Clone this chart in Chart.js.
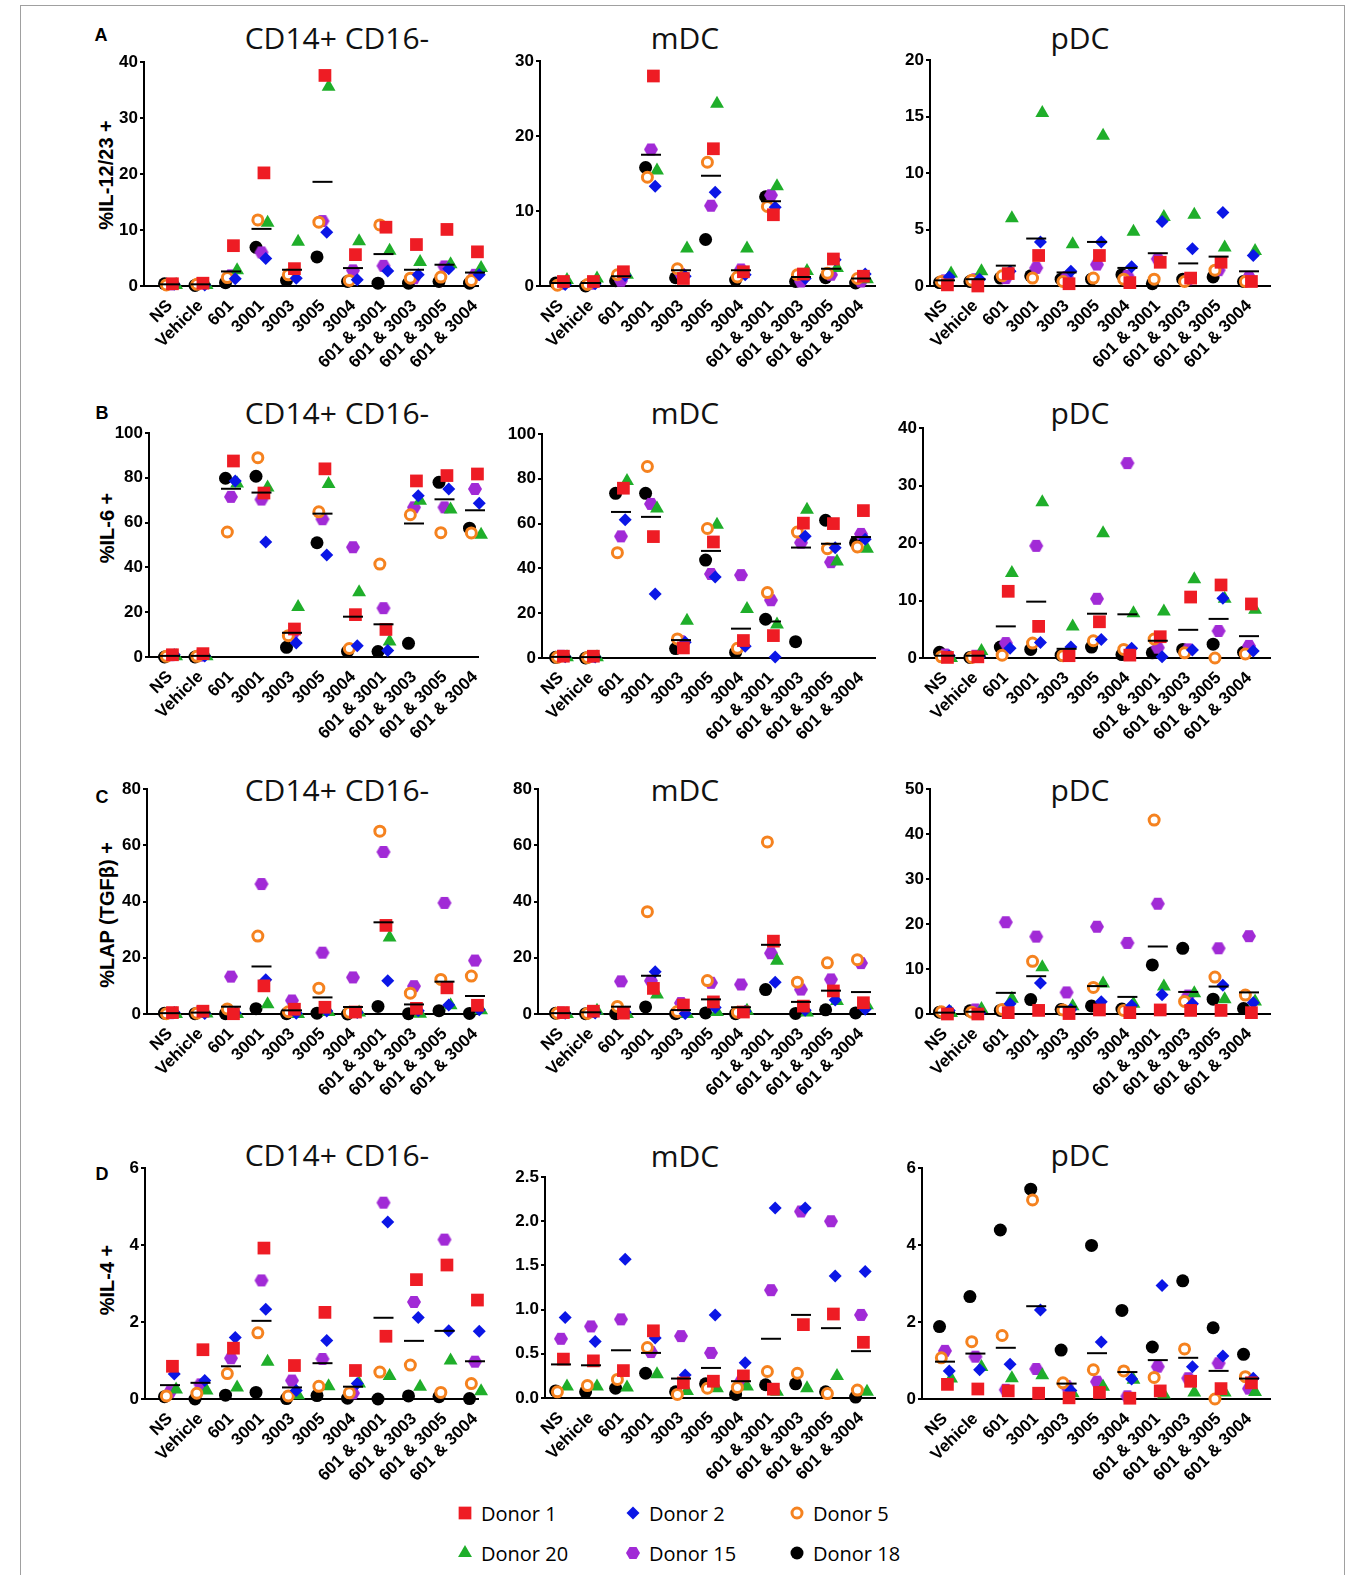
<!DOCTYPE html>
<html>
<head>
<meta charset="utf-8">
<script src="https://cdn.jsdelivr.net/npm/chart.js@4.4.1/dist/chart.umd.min.js"></script>
<style>
  body { margin: 0; background: #fff; width: 1363px; height: 1575px; position: relative; overflow: hidden; font-family: "Liberation Sans", Arial, sans-serif; color: #000; }
  .frame { position: absolute; left: 20px; top: 5px; width: 1323px; height: 1620px; border: 1px solid #a0a0a0; }
  canvas.panel { position: absolute; }
  .title { position: absolute; font-family: "Open Sans", sans-serif; font-size: 30px; transform: translate(-50%, -50%); white-space: nowrap; color: #111; }
  .letter { position: absolute; font-weight: bold; font-size: 18px; transform: translate(-50%, -50%); }
  .ytitle { position: absolute; font-weight: bold; font-size: 20px; white-space: nowrap; transform: translate(-50%, -50%) rotate(-90deg); }
  .leg { position: absolute; font-family: "Open Sans", sans-serif; font-size: 20px; transform: translateY(-50%); white-space: nowrap; }
  canvas.sym { position: absolute; }
</style>
</head>
<body>
<div class="frame"></div>

<div class="letter" style="left:101px;top:35px">A</div>
<div class="letter" style="left:102px;top:413px">B</div>
<div class="letter" style="left:102px;top:797px">C</div>
<div class="letter" style="left:102px;top:1174px">D</div>

<div class="ytitle" style="left:106px;top:175px">%IL-12/23 +</div>
<div class="ytitle" style="left:107px;top:528px">%IL-6 +</div>
<div class="ytitle" style="left:107px;top:915px">%LAP (TGFβ) +</div>
<div class="ytitle" style="left:107px;top:1280px">%IL-4 +</div>

<div class="title" style="left:337px;top:37px">CD14+ CD16-</div>
<div class="title" style="left:685px;top:37px">mDC</div>
<div class="title" style="left:1080px;top:37px">pDC</div>
<div class="title" style="left:337px;top:412px">CD14+ CD16-</div>
<div class="title" style="left:685px;top:412px">mDC</div>
<div class="title" style="left:1080px;top:412px">pDC</div>
<div class="title" style="left:337px;top:789px">CD14+ CD16-</div>
<div class="title" style="left:685px;top:789px">mDC</div>
<div class="title" style="left:1080px;top:789px">pDC</div>
<div class="title" style="left:337px;top:1154px">CD14+ CD16-</div>
<div class="title" style="left:685px;top:1155px">mDC</div>
<div class="title" style="left:1080px;top:1154px">pDC</div>

<div id="legend"></div>

<script>
const treatments = ["NS", "Vehicle", "601", "3001", "3003", "3005", "3004",
  "601 & 3001", "601 & 3003", "601 & 3005", "601 & 3004"];
const donors = ["Donor 1", "Donor 2", "Donor 5", "Donor 20", "Donor 15", "Donor 18"];

// each block: one row per donor (order as in `donors`), one value per treatment; then the mean
// --- %IL-12/23+ ---
const il12Mono = [
  [0.4, 0.5, 7.2, 20.2, 3.1, 37.6, 5.6, 10.5, 7.4, 10.1, 6.1],
  [0.3, 0.2, 1.3, 4.9, 1.4, 9.6, 1.1, 2.7, 2.0, 3.1, 2.0],
  [0.2, 0.3, 1.5, 11.8, 2.0, 11.4, 1.0, 10.9, 1.4, 1.6, 1.0],
  [0.2, 0.2, 2.8, 11.3, 7.9, 35.6, 8.0, 6.3, 4.3, 3.9, 3.2],
  [0.3, 0.5, 1.9, 6.0, 2.1, 11.6, 2.8, 3.6, 1.4, 3.5, 2.0],
  [0.4, 0.1, 0.6, 6.9, 1.0, 5.2, 0.8, 0.5, 0.5, 0.8, 0.5]
];
const il12MonoMean = [0.3, 0.3, 2.6, 10.2, 2.9, 18.6, 3.2, 5.7, 2.9, 3.8, 2.4];

const il12Mdc = [
  [0.6, 0.6, 1.9, 28.0, 1.0, 18.3, 1.9, 9.5, 1.6, 3.6, 1.3],
  [0.2, 0.3, 1.4, 13.3, 1.3, 12.5, 1.5, 10.5, 1.0, 3.5, 1.6],
  [0.1, 0.2, 1.5, 14.5, 2.3, 16.5, 1.2, 10.6, 1.5, 1.7, 1.0],
  [0.8, 1.0, 1.5, 15.4, 5.0, 24.3, 5.0, 13.3, 2.0, 2.4, 0.9],
  [0.3, 0.3, 0.7, 18.2, 1.6, 10.7, 2.2, 12.1, 0.6, 1.5, 0.6],
  [0.4, 0.0, 0.7, 15.8, 1.1, 6.2, 0.8, 11.9, 0.6, 1.1, 0.4]
];
const il12MdcMean = [0.4, 0.4, 1.3, 17.5, 2.1, 14.7, 2.1, 11.3, 1.2, 2.3, 1.0];

const il12Pdc = [
  [0.1, 0.0, 1.1, 2.7, 0.2, 2.7, 0.3, 2.1, 0.7, 2.1, 0.4],
  [0.8, 0.6, 1.3, 3.9, 1.3, 3.9, 1.7, 5.7, 3.3, 6.5, 2.7],
  [0.4, 0.5, 0.9, 0.7, 0.4, 0.7, 0.6, 0.6, 0.4, 1.4, 0.4],
  [1.1, 1.3, 6.0, 15.3, 3.7, 13.3, 4.8, 6.1, 6.3, 3.4, 3.1],
  [0.5, 0.6, 0.7, 1.6, 0.8, 1.9, 0.9, 2.4, 0.6, 1.4, 0.8],
  [0.3, 0.4, 0.7, 0.9, 0.6, 0.6, 1.0, 0.2, 0.6, 0.8, 0.4]
];
const il12PdcMean = [0.5, 0.6, 1.8, 4.2, 1.2, 3.9, 1.6, 2.9, 2.0, 2.6, 1.3];

// --- %IL-6+ ---
const il6Mono = [
  [1.0, 1.5, 87.5, 73.2, 12.5, 84.0, 18.9, 12.3, 78.6, 81.0, 81.7],
  [1.0, 0.5, 78.6, 51.3, 6.3, 45.5, 5.0, 2.9, 72.0, 75.0, 68.6],
  [0.3, 0.3, 55.8, 89.0, 9.5, 64.8, 3.8, 41.5, 63.5, 55.5, 55.4],
  [0.3, 0.3, 77.5, 75.7, 22.3, 77.2, 28.9, 6.9, 69.8, 65.8, 54.6],
  [0.8, 0.6, 71.5, 70.3, 9.7, 61.5, 49.0, 21.8, 66.8, 66.8, 75.0],
  [0.0, 0.0, 79.8, 80.7, 4.3, 51.0, 2.5, 2.4, 6.1, 78.0, 57.5]
];
const il6MonoMean = [0.5, 0.5, 75.1, 73.4, 10.8, 64.0, 18.0, 14.6, 59.6, 70.4, 65.5];

const il6Mdc = [
  [0.8, 0.8, 75.8, 54.2, 4.5, 51.8, 7.8, 10.0, 60.2, 60.0, 65.8],
  [0.6, 0.5, 61.7, 28.6, 7.0, 36.2, 5.2, 0.5, 54.4, 49.2, 53.0],
  [0.3, 0.2, 47.0, 85.5, 8.5, 57.8, 4.3, 29.2, 56.2, 48.8, 49.6],
  [0.3, 0.3, 79.0, 66.7, 16.6, 59.5, 21.9, 15.0, 66.2, 43.1, 48.8],
  [1.0, 0.6, 54.3, 68.8, 7.5, 37.5, 37.0, 25.8, 51.5, 42.8, 55.4],
  [0.3, 0.0, 73.5, 73.5, 4.2, 43.7, 2.5, 17.3, 7.3, 61.5, 51.4]
];
const il6MdcMean = [0.5, 0.4, 65.2, 63.0, 8.0, 47.8, 13.1, 16.3, 49.3, 51.0, 54.0];

const il6Pdc = [
  [0.1, 0.2, 11.6, 5.5, 0.4, 6.3, 0.5, 3.7, 10.6, 12.7, 9.4],
  [0.4, 0.3, 1.7, 2.7, 1.9, 3.2, 1.7, 0.2, 1.4, 10.4, 1.2],
  [0.2, 0.1, 0.5, 2.6, 0.4, 3.0, 1.5, 3.3, 0.9, 0.0, 0.7],
  [0.0, 1.2, 14.8, 27.1, 5.5, 21.7, 7.8, 8.1, 13.7, 10.3, 8.4],
  [0.6, 0.4, 2.6, 19.5, 0.7, 10.3, 33.9, 1.8, 1.5, 4.7, 2.1],
  [1.0, 0.1, 1.9, 1.5, 0.5, 1.9, 0.6, 0.9, 1.5, 2.4, 1.0]
];
const il6PdcMean = [0.4, 0.4, 5.5, 9.8, 1.6, 7.7, 7.6, 3.0, 4.9, 6.8, 3.8];

// --- %LAP (TGFb)+ ---
const lapMono = [
  [0.5, 1.0, 0.1, 10.0, 1.7, 2.4, 0.7, 31.5, 2.0, 9.3, 3.1],
  [0.5, 0.2, 0.4, 12.2, 0.3, 1.1, 0.5, 11.8, 1.2, 3.2, 1.5],
  [0.1, 0.3, 1.8, 27.7, 0.8, 9.2, 0.6, 65.0, 7.4, 12.3, 13.5],
  [0.0, 0.2, 0.0, 3.5, 0.0, 0.7, 0.5, 27.2, 0.1, 3.1, 1.3],
  [0.3, 0.9, 13.3, 46.2, 4.8, 21.8, 13.0, 57.6, 9.9, 39.5, 19.0],
  [0.3, 0.1, 0.1, 1.9, 0.1, 0.3, 0.0, 2.7, 0.1, 1.2, 0.2]
];
const lapMonoMean = [0.3, 0.5, 2.6, 16.9, 1.3, 5.9, 2.5, 32.6, 3.4, 11.5, 6.4];

const lapMdc = [
  [0.5, 1.0, 0.3, 9.1, 3.2, 4.3, 0.7, 25.9, 2.8, 8.2, 4.0],
  [0.3, 0.4, 0.6, 15.0, 0.2, 2.3, 1.0, 11.3, 1.3, 5.0, 1.7],
  [0.3, 0.2, 2.7, 36.4, 0.9, 11.9, 0.6, 61.2, 11.3, 18.2, 19.3],
  [0.0, 1.2, 0.0, 6.9, 0.0, 0.7, 1.2, 18.9, 0.5, 4.6, 3.1],
  [0.5, 0.7, 11.6, 11.8, 3.9, 11.1, 10.5, 21.6, 8.7, 12.3, 18.1],
  [0.3, 0.1, 0.1, 2.5, 0.1, 0.4, 0.1, 8.7, 0.2, 1.5, 0.4]
];
const lapMdcMean = [0.3, 0.6, 2.6, 13.6, 1.4, 5.2, 2.4, 24.6, 4.3, 8.3, 7.8];

const lapPdc = [
  [0.0, 0.0, 0.3, 0.8, 0.1, 0.9, 0.3, 0.9, 0.8, 0.8, 0.3],
  [0.8, 0.3, 2.3, 6.9, 1.0, 2.7, 1.9, 4.3, 2.3, 6.4, 2.5],
  [0.5, 0.4, 1.0, 11.7, 0.9, 5.9, 0.8, 43.1, 2.8, 8.2, 4.2],
  [0.2, 1.1, 3.4, 10.4, 1.7, 6.8, 2.3, 6.1, 4.6, 3.3, 2.8],
  [0.2, 1.0, 20.4, 17.2, 4.8, 19.4, 15.8, 24.5, 4.1, 14.6, 17.3],
  [0.4, 0.7, 0.8, 3.2, 1.0, 1.8, 1.1, 10.9, 14.6, 3.3, 1.2]
];
const lapPdcMean = [0.3, 0.5, 4.7, 8.4, 1.6, 6.2, 3.8, 15.0, 4.9, 6.1, 4.8];

// --- %IL-4+ ---
const il4Mono = [
  [0.85, 1.28, 1.32, 3.92, 0.87, 2.25, 0.74, 1.63, 3.10, 3.48, 2.57],
  [0.65, 0.48, 1.60, 2.33, 0.22, 1.52, 0.40, 4.60, 2.12, 1.77, 1.76],
  [0.08, 0.15, 0.66, 1.72, 0.08, 0.33, 0.16, 0.70, 0.88, 0.17, 0.40],
  [0.25, 0.22, 0.30, 0.97, 0.10, 0.33, 0.40, 0.60, 0.32, 1.00, 0.20],
  [0.18, 0.38, 1.06, 3.08, 0.48, 1.04, 0.15, 5.10, 2.52, 4.14, 0.97],
  [0.06, 0.00, 0.10, 0.17, 0.01, 0.09, 0.02, 0.00, 0.08, 0.06, 0.01]
];
const il4MonoMean = [0.36, 0.42, 0.85, 2.03, 0.30, 0.93, 0.32, 2.11, 1.51, 1.77, 0.98];

const il4Mdc = [
  [0.44, 0.42, 0.31, 0.76, 0.17, 0.19, 0.25, 0.10, 0.83, 0.95, 0.63],
  [0.91, 0.64, 1.57, 0.68, 0.26, 0.94, 0.40, 2.15, 2.15, 1.38, 1.43],
  [0.07, 0.14, 0.21, 0.57, 0.04, 0.11, 0.12, 0.30, 0.28, 0.05, 0.09],
  [0.13, 0.13, 0.12, 0.27, 0.08, 0.11, 0.13, 0.07, 0.11, 0.25, 0.07],
  [0.67, 0.81, 0.89, 0.52, 0.70, 0.51, 0.19, 1.22, 2.11, 2.00, 0.94],
  [0.08, 0.07, 0.11, 0.28, 0.07, 0.16, 0.04, 0.15, 0.16, 0.07, 0.01]
];
const il4MdcMean = [0.38, 0.37, 0.54, 0.51, 0.22, 0.34, 0.19, 0.67, 0.94, 0.79, 0.53];

const il4Pdc = [
  [0.38, 0.26, 0.21, 0.15, 0.03, 0.17, 0.02, 0.21, 0.46, 0.27, 0.42],
  [0.73, 0.76, 0.90, 2.31, 0.22, 1.48, 0.52, 2.95, 0.84, 1.12, 0.54],
  [1.07, 1.49, 1.65, 5.17, 0.42, 0.76, 0.73, 0.56, 1.30, 0.00, 0.58],
  [0.53, 0.83, 0.54, 0.62, 0.15, 0.32, 0.50, 0.12, 0.17, 0.17, 0.18],
  [1.25, 1.10, 0.24, 0.78, 0.34, 0.45, 0.07, 0.84, 0.54, 0.93, 0.27],
  [1.88, 2.66, 4.39, 5.45, 1.27, 3.99, 2.30, 1.35, 3.07, 1.85, 1.16]
];
const il4PdcMean = [0.97, 1.18, 1.33, 2.41, 0.40, 1.19, 0.70, 1.01, 1.07, 0.73, 0.53];

// ---------- styling ----------
function hexagon(color, r) {
  const c = document.createElement("canvas");
  c.width = c.height = 2 * r + 2;
  const g = c.getContext("2d");
  g.fillStyle = color;
  g.beginPath();
  for (let k = 0; k < 6; k++) {
    const a = Math.PI / 3 * k;
    g.lineTo(r + 1 + r * Math.cos(a), r + 1 + r * Math.sin(a));
  }
  g.closePath();
  g.fill();
  return c;
}

const donorStyle = [
  { pointStyle: "rect", radius: 9, bg: "#ee1c24", border: "#ee1c24", bw: 0 },
  { pointStyle: "rectRot", radius: 6.5, bg: "#0b16e6", border: "#0b16e6", bw: 0 },
  { pointStyle: "circle", radius: 5, bg: "#ffffff", border: "#f5821f", bw: 3 },
  { pointStyle: "triangle", radius: 8, bg: "#1fae2a", border: "#1fae2a", bw: 0 },
  { pointStyle: hexagon("#a12ad6", 7), radius: 7, bg: "#a12ad6", border: "#a12ad6", bw: 0 },
  { pointStyle: "circle", radius: 6.5, bg: "#000000", border: "#000000", bw: 0 }
];
const jitter = [0.08, 0.14, -0.12, 0.2, 0.0, -0.18];

// column geometry: first category pixel and pixels per category
const cols = [
  { cat0: 170, ppc: 30.5, right: 478 },
  { cat0: 561, ppc: 30.0, right: 875 },
  { cat0: 945, ppc: 30.4, right: 1270 }
];

const panels = [
  { col: 0, left: 144, top: 62, bottom: 286, rows: il12Mono, mean: il12MonoMean, max: 40, step: 10 },
  { col: 1, left: 540, top: 61, bottom: 286, rows: il12Mdc, mean: il12MdcMean, max: 30, step: 10 },
  { col: 2, left: 930, top: 60, bottom: 286, rows: il12Pdc, mean: il12PdcMean, max: 20, step: 5 },
  { col: 0, left: 149, top: 433, bottom: 657, rows: il6Mono, mean: il6MonoMean, max: 100, step: 20 },
  { col: 1, left: 542, top: 434, bottom: 658, rows: il6Mdc, mean: il6MdcMean, max: 100, step: 20 },
  { col: 2, left: 923, top: 428, bottom: 658, rows: il6Pdc, mean: il6PdcMean, max: 40, step: 10 },
  { col: 0, left: 147, top: 789, bottom: 1014, rows: lapMono, mean: lapMonoMean, max: 80, step: 20 },
  { col: 1, left: 538, top: 789, bottom: 1014, rows: lapMdc, mean: lapMdcMean, max: 80, step: 20 },
  { col: 2, left: 930, top: 789, bottom: 1014, rows: lapPdc, mean: lapPdcMean, max: 50, step: 10 },
  { col: 0, left: 145, top: 1168, bottom: 1399, rows: il4Mono, mean: il4MonoMean, max: 6, step: 2 },
  { col: 1, left: 545, top: 1177, bottom: 1398, rows: il4Mdc, mean: il4MdcMean, max: 2.5, step: 0.5, dec: 1 },
  { col: 2, left: 922, top: 1168, bottom: 1399, rows: il4Pdc, mean: il4PdcMean, max: 6, step: 2 }
];

const Y_W = 44, PAD_L = 16, PAD_T = 14, X_H = 92, PAD_R = 15;
const xFont = { family: "Liberation Sans", weight: "bold", size: 17 };
const yFont = { family: "Liberation Sans", weight: "bold", size: 17 };

panels.forEach(function (p) {
  const col = cols[p.col];
  const cv = document.createElement("canvas");
  cv.className = "panel";
  const cLeft = p.left - Y_W - PAD_L;
  const cTop = p.top - PAD_T;
  const w = col.right + PAD_R - cLeft;
  const h = PAD_T + (p.bottom - p.top) + X_H + 2;
  cv.width = w; cv.height = h;
  cv.style.left = cLeft + "px"; cv.style.top = cTop + "px";
  cv.style.width = w + "px"; cv.style.height = h + "px";
  document.body.appendChild(cv);

  const xMin = -(col.cat0 - p.left) / col.ppc;
  const xMax = (col.right - col.cat0) / col.ppc;

  const datasets = [{
    label: "Mean",
    data: p.mean.map((v, j) => ({ x: j, y: v })),
    pointStyle: "line",
    pointRadius: 10,
    borderColor: "#000",
    backgroundColor: "#000",
    borderWidth: 2,
    clip: false
  }];
  p.rows.forEach(function (vals, i) {
    const s = donorStyle[i];
    datasets.push({
      label: donors[i],
      data: vals.map((v, j) => ({ x: j + jitter[i], y: v })),
      pointStyle: s.pointStyle,
      pointRadius: s.radius,
      backgroundColor: s.bg,
      borderColor: s.border,
      borderWidth: s.bw,
      clip: false
    });
  });

  new Chart(cv.getContext("2d"), {
    type: "scatter",
    data: { datasets: datasets },
    options: {
      responsive: false,
      animation: false,
      devicePixelRatio: 1,
      layout: { padding: { left: PAD_L, top: PAD_T, right: PAD_R, bottom: 2 } },
      plugins: { legend: { display: false }, tooltip: { enabled: false } },
      scales: {
        x: {
          type: "linear",
          min: xMin,
          max: xMax,
          afterBuildTicks: function (s) { s.ticks = treatments.map((_, i) => ({ value: i })); },
          afterFit: function (s) { s.height = X_H; },
          grid: { display: false },
          border: { display: true, color: "#000", width: 2 },
          ticks: {
            autoSkip: false, minRotation: 45, maxRotation: 45, padding: 2, color: "#000",
            font: xFont,
            callback: function (v) { return treatments[v]; }
          }
        },
        y: {
          min: 0,
          max: p.max,
          afterFit: function (s) { s.width = Y_W; },
          grid: { display: true, drawOnChartArea: false, drawTicks: true, tickLength: 4, color: "#000", lineWidth: 2 },
          border: { display: true, color: "#000", width: 2 },
          ticks: {
            stepSize: p.step, padding: 2, color: "#000", font: yFont,
            callback: function (v) { return p.dec ? v.toFixed(p.dec) : v; }
          }
        }
      }
    }
  });
});

// legend: marker drawn with the same point styles as the charts
const legendSpots = [
  { x: 465, y: 1513 }, { x: 633, y: 1513 }, { x: 797, y: 1513 },
  { x: 465, y: 1553 }, { x: 633, y: 1553 }, { x: 797, y: 1553 }
];
const legendBox = document.getElementById("legend");
donors.forEach(function (name, i) {
  const s = donorStyle[i];
  const spot = legendSpots[i];
  const c = document.createElement("canvas");
  c.className = "sym";
  c.width = c.height = 22;
  c.style.left = (spot.x - 11) + "px";
  c.style.top = (spot.y - 11) + "px";
  const g = c.getContext("2d");
  g.fillStyle = s.bg; g.strokeStyle = s.border; g.lineWidth = s.bw;
  Chart.helpers.drawPoint(g, { pointStyle: s.pointStyle, radius: s.radius, borderWidth: s.bw, rotation: 0 }, 11, 11);
  legendBox.appendChild(c);
  const t = document.createElement("div");
  t.className = "leg";
  t.style.left = (spot.x + 16) + "px";
  t.style.top = spot.y + "px";
  t.textContent = name;
  legendBox.appendChild(t);
});
</script>
</body>
</html>
